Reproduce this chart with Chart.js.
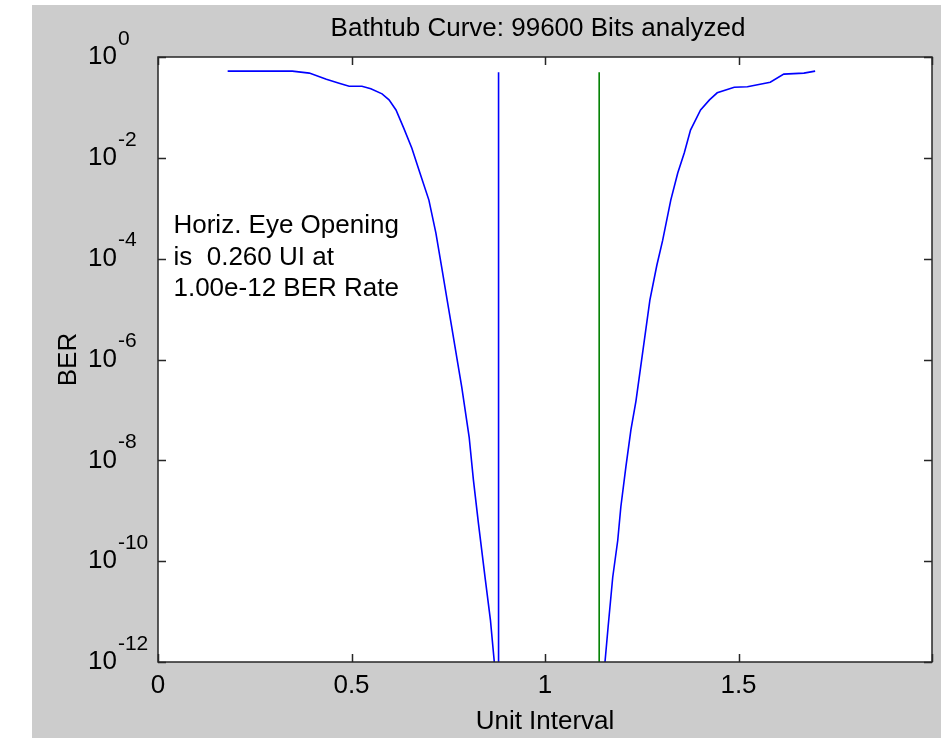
<!DOCTYPE html>
<html><head><meta charset="utf-8">
<script src="https://cdn.jsdelivr.net/npm/chart.js@4"></script>
<style>
html,body{margin:0;padding:0;background:#fff;overflow:hidden}
#wrap{position:absolute;left:0;top:0;width:941px;height:738px}
</style></head>
<body><div id="wrap"><canvas id="c" width="941" height="738"></canvas></div>
<script>
// ---- text ----
const chartTitle = 'Bathtub Curve: 99600 Bits analyzed';
const xAxisTitle = 'Unit Interval';
const yAxisTitle = 'BER';
const annotationLines = ['Horiz. Eye Opening', 'is  0.260 UI at', '1.00e-12 BER Rate'];
const annotationUI = 0.04;
const annotationBER = 1e-4;

// ---- data ----
const leftUI  = [0.180,0.347,0.391,0.435,0.468,0.494,0.527,0.550,0.579,0.597,0.615,0.635,0.656,0.676,0.700,0.718,0.733,0.746,0.759,0.772,0.785,0.804,0.815,0.828,0.846,0.859,0.869];
const leftBER = [0.525,0.525,0.479,0.363,0.302,0.263,0.263,0.234,0.186,0.141,0.0891,0.0389,0.0155,5.25e-3,1.45e-3,3.24e-4,6.8e-5,1.7e-5,4.4e-6,1.1e-6,2.8e-7,2.9e-8,4.1e-9,5.6e-10,4.2e-11,6.8e-12,1e-12];
const rightUI  = [1.155,1.163,1.175,1.188,1.196,1.209,1.222,1.235,1.253,1.271,1.289,1.304,1.325,1.343,1.360,1.376,1.402,1.425,1.445,1.489,1.523,1.582,1.617,1.669,1.698];
const rightBER = [1e-12,4.9e-12,4.8e-11,2.6e-10,1.2e-9,7.4e-9,4.0e-8,1.5e-7,1.5e-6,1.5e-5,7.4e-5,2.3e-4,1.45e-3,5.0e-3,0.0126,0.0355,0.0891,0.141,0.195,0.251,0.257,0.316,0.457,0.479,0.525];
const eyeLeftUI = [0.88, 0.88];
const eyeRightUI = [1.14, 1.14];
const eyeMarkerBER = [1e-12, 0.5];

// ---- ticks ----
const xTickValues = [0, 0.5, 1, 1.5, 2];
const xTickLabels = ['0', '0.5', '1', '1.5', ''];
const yTickValues = [1, 1e-2, 1e-4, 1e-6, 1e-8, 1e-10, 1e-12];
const yTickBase = '10';
const yTickExponents = ['0', '-2', '-4', '-6', '-8', '-10', '-12'];

const FONT = '"Liberation Sans", Arial, sans-serif';
const toPts = (xs, ys) => xs.map((x, i) => ({x: x, y: ys[i]}));

const framePlugin = {
  id: 'matlabFrame',
  beforeDraw(chart) {
    const ctx = chart.ctx, a = chart.chartArea;
    ctx.save();
    ctx.fillStyle = '#ffffff';
    ctx.fillRect(0, 0, chart.width, chart.height);
    ctx.fillStyle = '#cccccc';
    ctx.fillRect(32, 5, chart.width - 32, chart.height - 5);
    ctx.fillStyle = '#ffffff';
    ctx.fillRect(a.left, a.top, a.right - a.left, a.bottom - a.top);
    ctx.restore();
  },
  afterDatasetsDraw(chart) {
    const ctx = chart.ctx, a = chart.chartArea;
    const xs = chart.scales.x, ys = chart.scales.y;
    ctx.save();
    // box
    ctx.strokeStyle = '#262626';
    ctx.lineWidth = 1.5;
    ctx.strokeRect(a.left, a.top, a.right - a.left, a.bottom - a.top);
    // inward ticks
    const tl = 8;
    ctx.beginPath();
    xTickValues.forEach(v => {
      const px = Math.round(xs.getPixelForValue(v)) + 0.5;
      ctx.moveTo(px, a.bottom); ctx.lineTo(px, a.bottom - tl);
      ctx.moveTo(px, a.top); ctx.lineTo(px, a.top + tl);
    });
    yTickValues.forEach(v => {
      const py = Math.round(ys.getPixelForValue(v)) + 0.5;
      ctx.moveTo(a.left, py); ctx.lineTo(a.left + tl, py);
      ctx.moveTo(a.right, py); ctx.lineTo(a.right - tl, py);
    });
    ctx.stroke();
    // y tick labels with superscript exponents
    ctx.fillStyle = '#000';
    ctx.textAlign = 'left';
    ctx.textBaseline = 'middle';
    yTickValues.forEach((v, i) => {
      const py = ys.getPixelForValue(v);
      ctx.font = '26px ' + FONT;
      const bx = 88;
      ctx.fillText(yTickBase, bx, py);
      const w = ctx.measureText(yTickBase).width;
      ctx.font = '21px ' + FONT;
      ctx.fillText(yTickExponents[i], bx + w + 1, py - 18);
    });
    // title
    ctx.font = '26px ' + FONT;
    ctx.textAlign = 'center';
    ctx.textBaseline = 'middle';
    ctx.fillText(chartTitle, 538, 29);
    // annotation
    ctx.textAlign = 'left';
    const ax = xs.getPixelForValue(annotationUI);
    const ay = ys.getPixelForValue(annotationBER) - 1;
    annotationLines.forEach((t, i) => {
      ctx.fillText(t, ax, ay + (i - 1) * 31.5);
    });
    ctx.restore();
  }
};

new Chart(document.getElementById('c'), {
  type: 'line',
  data: {
    datasets: [
      {data: toPts(leftUI, leftBER), borderColor: '#0000ff'},
      {data: toPts(rightUI, rightBER), borderColor: '#0000ff'},
      {data: toPts(eyeLeftUI, eyeMarkerBER), borderColor: '#0000ff'},
      {data: toPts(eyeRightUI, eyeMarkerBER), borderColor: '#008000'}
    ]
  },
  options: {
    responsive: false,
    animation: false,
    events: [],
    parsing: true,
    elements: {
      line: {borderWidth: 1.6, tension: 0, fill: false},
      point: {radius: 0}
    },
    layout: {padding: {left: 0, top: 57, right: 9, bottom: 0}},
    plugins: {legend: {display: false}, title: {display: false}, tooltip: {enabled: false}},
    scales: {
      x: {
        type: 'linear', min: 0, max: 2,
        grid: {display: false, drawTicks: false},
        border: {display: false},
        afterBuildTicks: s => { s.ticks = xTickValues.map(v => ({value: v})); },
        afterFit: s => { s.height = 76; },
        ticks: {
          color: '#000', padding: 8, maxRotation: 0, autoSkip: false,
          font: {family: FONT, size: 26},
          callback: v => xTickLabels[xTickValues.indexOf(v)]
        },
        title: {display: true, text: xAxisTitle, color: '#000',
                font: {family: FONT, size: 26}, padding: {top: 0, bottom: 1}}
      },
      y: {
        type: 'logarithmic', min: 1e-12, max: 1,
        grid: {display: false, drawTicks: false},
        border: {display: false},
        afterBuildTicks: s => { s.ticks = yTickValues.map(v => ({value: v})); },
        afterFit: s => { s.width = 158; },
        ticks: {display: false},
        title: {display: true, text: yAxisTitle, color: '#000',
                font: {family: FONT, size: 26}, padding: {top: 53, bottom: 0}}
      }
    }
  },
  plugins: [framePlugin]
});
</script>
</body></html>
